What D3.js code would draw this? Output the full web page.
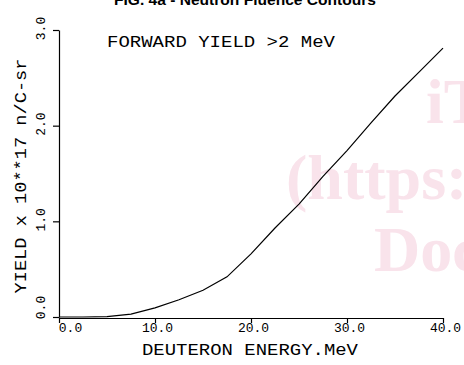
<!DOCTYPE html>
<html><head><meta charset="utf-8">
<script src="https://cdn.jsdelivr.net/npm/d3@7"></script>
<style>body{margin:0;background:#fff}svg{display:block}</style>
</head><body>
<script>
const energy = [0, 2.5, 5, 7.5, 10, 12.5, 15, 17.5, 20, 22.5, 25, 27.5, 30, 32.5, 35, 37.5, 40];
const yieldVals = [0, 0, 0.003, 0.03, 0.095, 0.18, 0.28, 0.42, 0.66, 0.93, 1.18, 1.47, 1.74, 2.03, 2.31, 2.56, 2.81];
const xTicks = [0, 10, 20, 30, 40];
const yTicks = [0, 1, 2, 3];
const title = "FIG. 4a - Neutron Fluence Contours";
const subtitle = "FORWARD YIELD >2 MeV";
const xLabel = "DEUTERON ENERGY.MeV";
const yLabel = "YIELD x 10**17 n/C-sr";
const watermark = ["iT", "(https:", "Doc"];

const W = 464, H = 365;
const svg = d3.select("body").append("svg").attr("width", W).attr("height", H);
const x = d3.scaleLinear().domain([0, 40]).range([59, 443]);
const y = d3.scaleLinear().domain([0, 3]).range([317, 30]);
const mono = "'Liberation Mono', 'DejaVu Sans Mono', monospace";

// watermark
const wm = svg.append("g").attr("fill", "#f9e3eb").attr("font-family", "'Liberation Serif', serif")
  .attr("font-weight", "bold").attr("font-size", 64);
wm.append("text").attr("x", 426).attr("y", 123).text(watermark[0]);
wm.append("text").attr("x", 286).attr("y", 199).text(watermark[1]);
wm.append("text").attr("x", 374).attr("y", 271).text(watermark[2]);

// title (cut off at top)
svg.append("text").attr("x", 245).attr("y", 5).attr("text-anchor", "middle")
  .attr("font-family", "'Liberation Sans', Arial, sans-serif").attr("font-weight", "bold")
  .attr("font-size", 15).attr("textLength", 262).attr("lengthAdjust", "spacingAndGlyphs").text(title);

// axes
const gx = svg.append("g").attr("transform", "translate(0,318)")
  .call(d3.axisBottom(x).tickValues(xTicks).tickSize(5).tickSizeOuter(0).tickFormat(d3.format(".1f")));
gx.selectAll("text").attr("font-family", mono).attr("font-size", 13).attr("fill", "#000")
  .attr("dy", 0).attr("y", 14)
  .attr("x", d => d === 0 ? 11 : 2);
gx.select(".domain").attr("stroke", "#000").attr("stroke-width", 1.2);
gx.selectAll(".tick line").attr("stroke", "#000").attr("stroke-width", 1.2);

const gy = svg.append("g").attr("transform", "translate(59,0)")
  .call(d3.axisLeft(y).tickValues(yTicks).tickSize(6).tickSizeOuter(0).tickFormat(d3.format(".1f")));
gy.select(".domain").attr("stroke", "#000").attr("stroke-width", 1.2);
gy.selectAll(".tick line").attr("stroke", "#000").attr("stroke-width", 1.2);
gy.selectAll("text").attr("font-family", mono).attr("font-size", 13).attr("fill", "#000")
  .attr("x", 0).attr("dy", 0).attr("text-anchor", "middle")
  .attr("transform", d => `translate(-14,${d === 0 ? -10 : -2}) rotate(-90)`);

// axis titles
svg.append("text").attr("x", 250).attr("y", 355).attr("text-anchor", "middle")
  .attr("font-family", mono).attr("font-size", 17).attr("textLength", 216)
  .attr("lengthAdjust", "spacingAndGlyphs").text(xLabel);
svg.append("text").attr("transform", "translate(26,176) rotate(-90)").attr("text-anchor", "middle")
  .attr("font-family", mono).attr("font-size", 16).attr("textLength", 235)
  .attr("lengthAdjust", "spacingAndGlyphs").text(yLabel);
svg.append("text").attr("x", 107).attr("y", 47)
  .attr("font-family", mono).attr("font-size", 17).attr("textLength", 228)
  .attr("lengthAdjust", "spacingAndGlyphs").text(subtitle);

// curve
const line = d3.line().x((d, i) => x(energy[i])).y(d => y(d)).curve(d3.curveLinear);
svg.append("path").datum(yieldVals).attr("d", line).attr("fill", "none")
  .attr("stroke", "#000").attr("stroke-width", 1.2);
</script>
</body></html>
